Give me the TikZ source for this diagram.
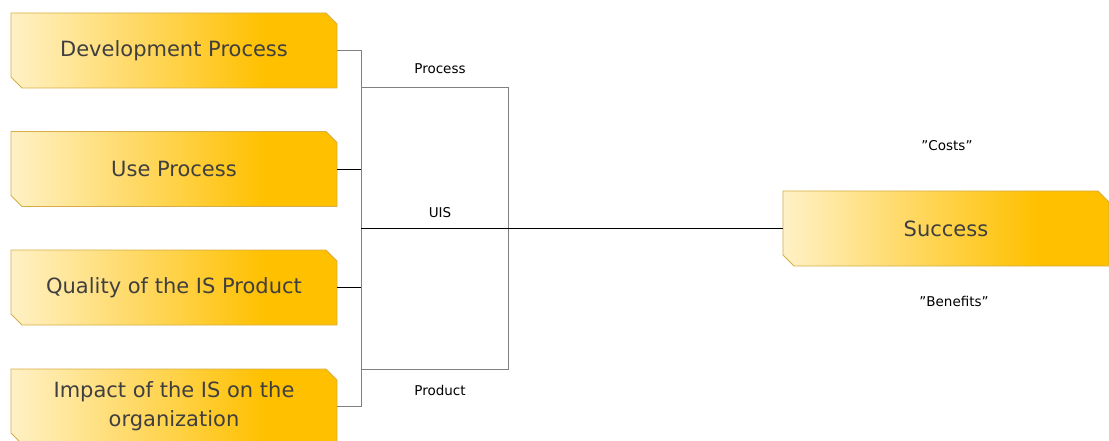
\documentclass[tikz,border=0pt]{standalone}
\usepackage{fontspec}
\setmainfont{DejaVu Sans}
\usetikzlibrary{shapes.misc}
\definecolor{boxpale}{HTML}{FFF1C6}
\definecolor{boxgold}{HTML}{FFC000}
\definecolor{boxedge}{HTML}{D6AE45}
\definecolor{boxtext}{HTML}{3F3F3F}
\definecolor{busgray}{HTML}{808080}
\pgfdeclarehorizontalshading{goldfade}{100bp}{color(0bp)=(boxpale); color(25bp)=(boxpale); color(64bp)=(boxgold); color(100bp)=(boxgold)}
\tikzset{
  factor/.style={chamfered rectangle, chamfered rectangle corners={north east,south west},
    chamfered rectangle xsep=5.5pt, chamfered rectangle ysep=5.5pt,
    minimum width=326pt, minimum height=75pt, inner sep=0pt,
    shading=goldfade, draw=boxedge, line width=0.8pt,
    text=boxtext, font=\fontsize{21}{29}\selectfont, align=center},
  tag/.style={font=\fontsize{13.5}{16}\selectfont, text=black, inner sep=0pt},
  grayline/.style={draw=busgray, line width=1pt},
  darkline/.style={draw=black, line width=0.9pt}
}
\begin{document}
\begin{tikzpicture}[x=1pt, y=-1pt]
  \useasboundingbox (0,0) rectangle (1109,441);
  \clip (0,0) rectangle (1109,441);

  % factor boxes on the left
  \node[factor] (dev) at (174,50.5)  {Development Process};
  \node[factor] (use) at (174,169)   {Use Process};
  \node[factor] (qual) at (174,287.5) {Quality of the IS Product};
  \node[factor] (imp) at (174,406.5) {Impact of the IS on the\\organization};

  % result box
  \node[factor] (suc) at (946,228.5) {Success};

  % bus and frame corners
  \coordinate (bus) at (361,0);
  \coordinate (frametl) at (361,88);
  \coordinate (framebr) at (508,369);

  % links from the factors to the bus
  \draw[grayline] (dev.east) -- (dev.east -| bus);
  \draw[darkline] (use.east) -- (use.east -| bus);
  \draw[darkline] (qual.east) -- (qual.east -| bus);
  \draw[grayline] (imp.east) -- (imp.east -| bus);
  \draw[grayline] (dev.east -| bus) -- (imp.east -| bus);

  % process/product frame
  \draw[grayline] (frametl) -- (frametl -| framebr) -- (framebr) -- (framebr -| frametl);

  % UIS line to success
  \draw[darkline] (suc.west -| bus) -- (suc.west);

  % labels
  \node[tag] (lproc) at (440,69)  {Process};
  \node[tag] (luis)  at (440,213) {UIS};
  \node[tag] (lprod) at (440,390) {Product};
  \node[tag] (lcost) at (947,146) {”Costs”};
  \node[tag] (lben)  at (954,301) {”Benefits”};
\end{tikzpicture}
\end{document}
